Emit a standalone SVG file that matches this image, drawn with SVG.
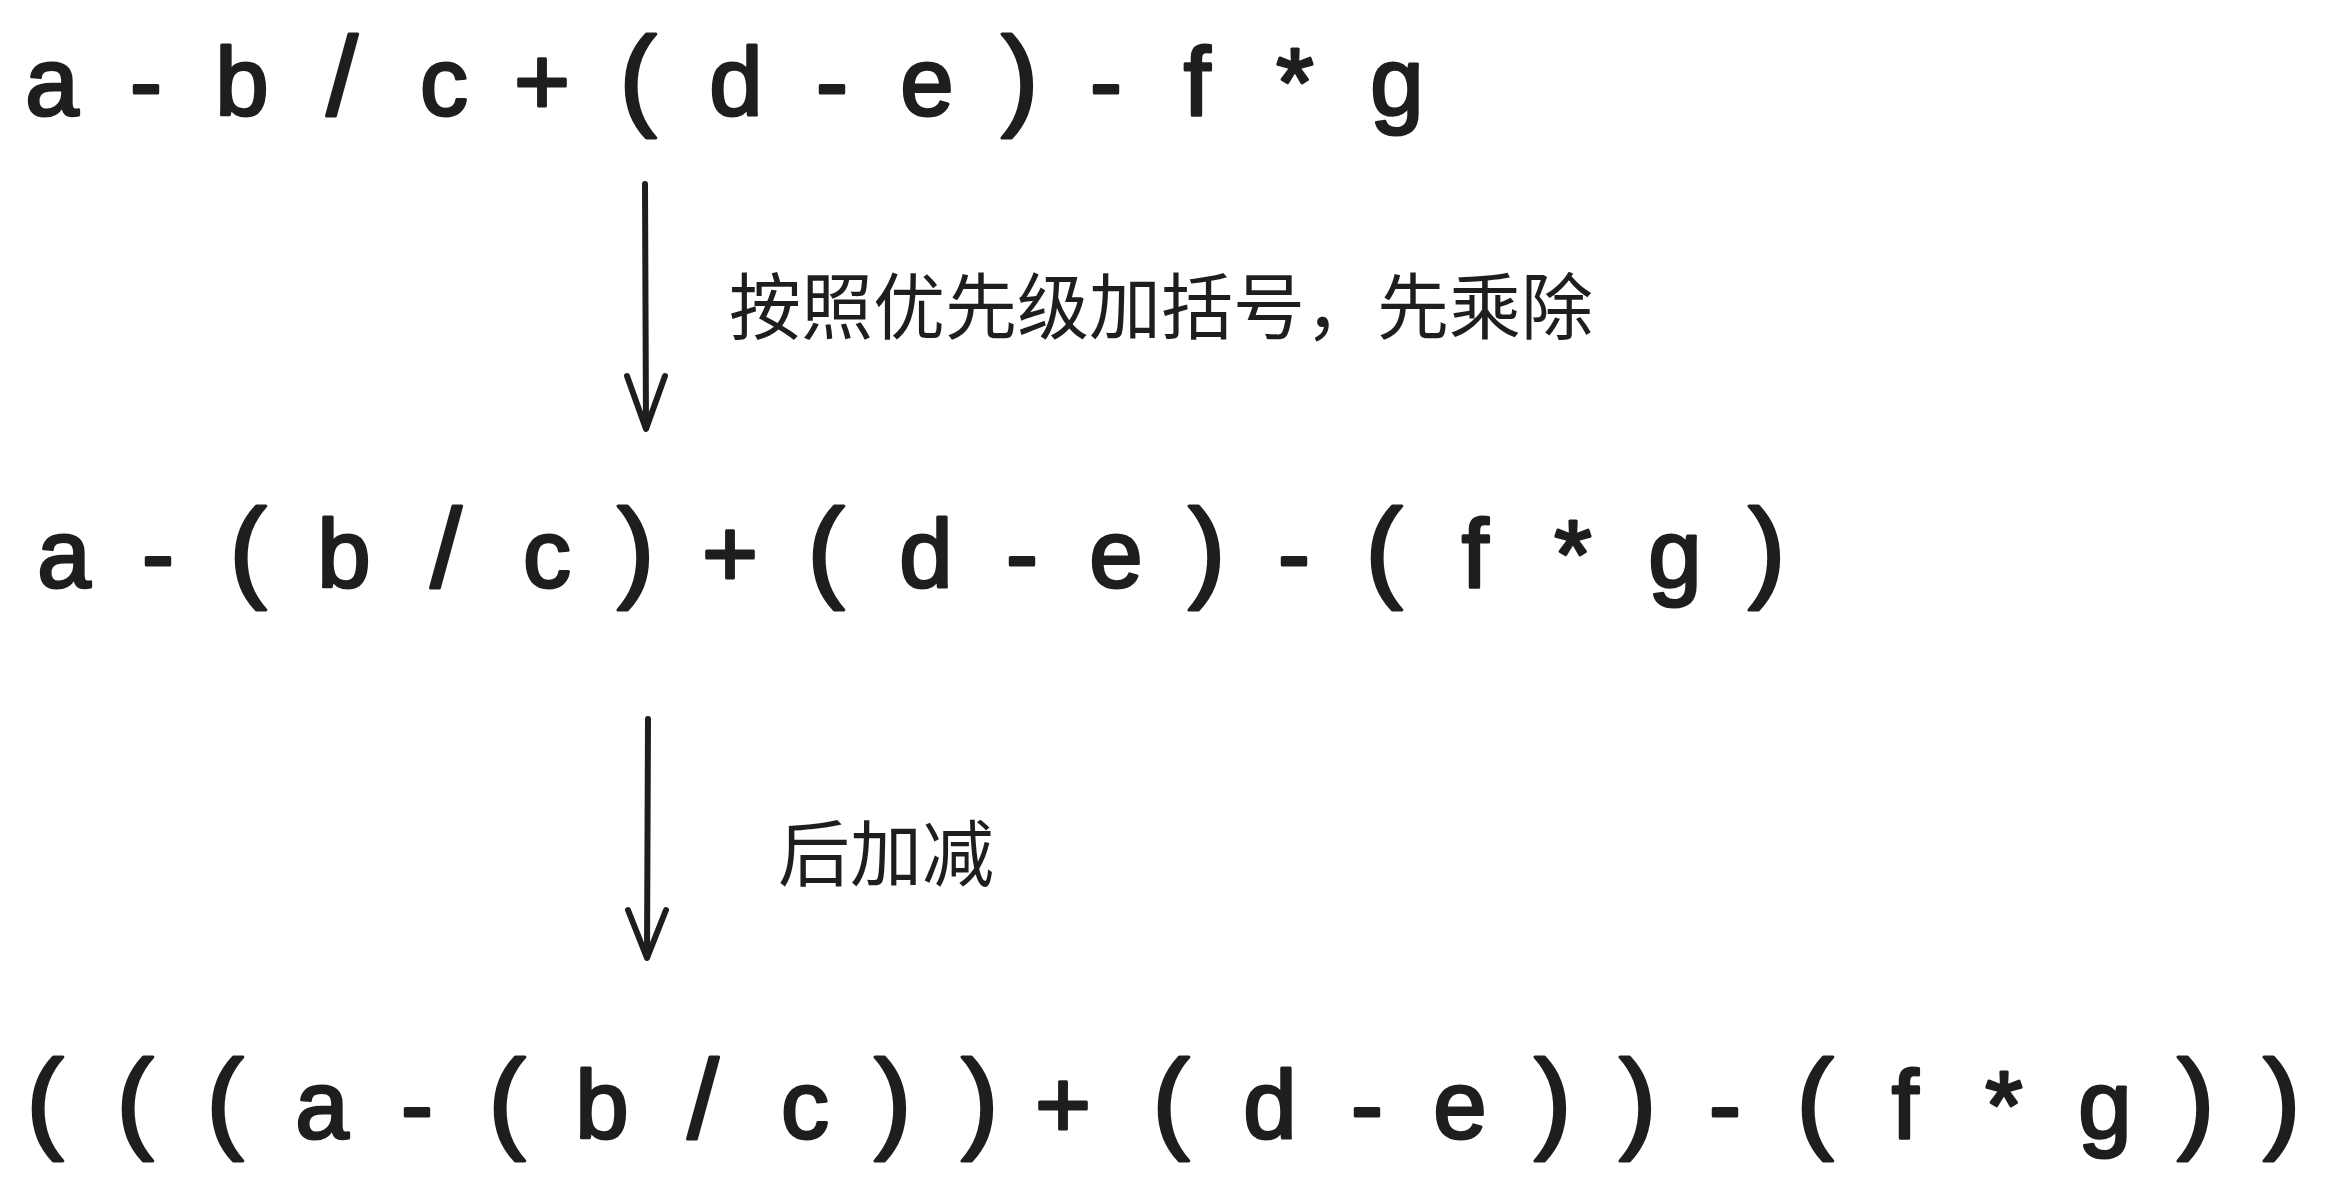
<svg xmlns="http://www.w3.org/2000/svg" width="2327" height="1197" viewBox="0 0 2327 1197">
  <style>
    .expr { font-family: "Liberation Sans", Arial, sans-serif; font-size: 96px; fill: #1e1e1e; stroke: #1e1e1e; stroke-width: 3; stroke-linejoin: round; text-anchor: middle; }
    .big { font-size: 112px; }
    .label { font-family: "Noto Sans CJK SC", "Noto Sans", sans-serif; font-size: 72px; fill: #1e1e1e; }
    .conn { fill: none; stroke: #1e1e1e; stroke-width: 6; stroke-linecap: round; stroke-linejoin: round; }
  </style>
  <rect width="2327" height="1197" fill="#ffffff"/>

  <g id="expr-original">
    <text class="expr" y="115" x="52 99 146 194 242 292 342 393 444 493 542 590 638 687 736 784 832 880 927 974 1020 1063 1106 1152 1197 1246 1295 1346 1397">a - b <tspan class="big">/</tspan> c + <tspan class="big">(</tspan> d - e <tspan class="big">)</tspan> - f * g</text>
  </g>

  <g id="expr-muldiv">
    <text class="expr" y="587" x="64 111 158 203 248 296 344 395 446 496 547 591 636 683 730 778 826 876 926 974 1022 1069 1116 1161 1207 1250 1294 1339 1384 1429 1475 1524 1573 1624 1675 1721 1767">a - <tspan class="big">(</tspan> b <tspan class="big">/</tspan> c <tspan class="big">)</tspan> + <tspan class="big">(</tspan> d - e <tspan class="big">)</tspan> - <tspan class="big">(</tspan> f * g <tspan class="big">)</tspan></text>
  </g>

  <g id="expr-full">
    <text class="expr" y="1138" x="45 90 135 180 225 273 322 370 417 462 507 555 602 652 703 754 805 849 893 936 980 1021 1063 1117 1171 1220 1270 1318 1367 1413 1460 1506 1553 1595 1638 1681 1725 1770 1815 1860 1905 1954 2004 2054 2105 2150 2196 2239 2282"><tspan class="big">(</tspan> <tspan class="big">(</tspan> <tspan class="big">(</tspan> a - <tspan class="big">(</tspan> b <tspan class="big">/</tspan> c <tspan class="big">)</tspan> <tspan class="big">)</tspan> + <tspan class="big">(</tspan> d - e <tspan class="big">)</tspan> <tspan class="big">)</tspan> - <tspan class="big">(</tspan> f * g <tspan class="big">)</tspan> <tspan class="big">)</tspan></text>
  </g>

  <g id="label-step1">
    <text class="label" x="729" y="333">按照优先级加括号，先乘除</text>
  </g>

  <g id="label-step2">
    <text class="label" x="778" y="880">后加减</text>
  </g>

  <g id="connectors">
    <path class="conn" d="M645 184 L646 428"/>
    <path class="conn" d="M627 376 L646 429 L665 376"/>
    <path class="conn" d="M648 719 L647 957"/>
    <path class="conn" d="M628 910 L647 958 L666 910"/>
  </g>
</svg>
